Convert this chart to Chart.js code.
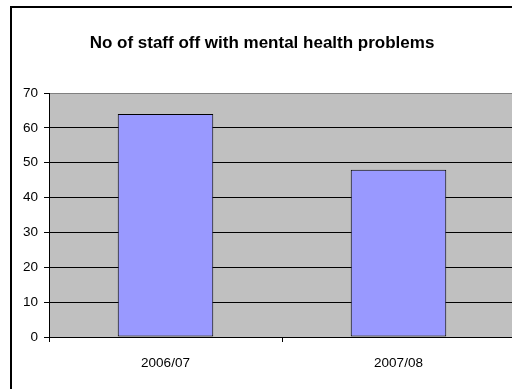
<!DOCTYPE html>
<html>
<head>
<meta charset="utf-8">
<script src="https://cdn.jsdelivr.net/npm/chart.js@4/dist/chart.umd.min.js"></script>
<style>
html,body{margin:0;padding:0;background:#fff;overflow:hidden;}
#wrap{width:512px;height:389px;overflow:hidden;position:relative;}
canvas{display:block;}
</style>
</head>
<body>
<div id="wrap"><canvas id="c" width="515" height="389"></canvas></div>
<script>
const titleText = "No of staff off with mental health problems";
const categories = ["2006/07", "2007/08"];
const staffOff = [64, 48];
const yMin = 0, yMax = 70, yStep = 10;

const FONT = "'Liberation Sans', Arial, sans-serif";

const frame = {
  id: 'frame',
  beforeDraw(chart) {
    const ctx = chart.ctx, a = chart.chartArea;
    ctx.save();
    ctx.fillStyle = '#ffffff';
    ctx.fillRect(0, 0, chart.width, chart.height);
    ctx.strokeStyle = '#000000';
    ctx.lineWidth = 2;
    ctx.strokeRect(11, 7, 520, 400);
    ctx.fillStyle = '#C0C0C0';
    ctx.fillRect(a.left, a.top, a.right - a.left, a.bottom - a.top);
    ctx.restore();
  }
};

new Chart(document.getElementById('c'), {
  type: 'bar',
  data: {
    labels: categories,
    datasets: [{
      data: staffOff,
      backgroundColor: '#9999FF',
      borderColor: '#000000',
      borderWidth: 1,
      borderSkipped: false,
      categoryPercentage: 1.0,
      barPercentage: 0.41
    }]
  },
  options: {
    responsive: false,
    animation: false,
    devicePixelRatio: 1,
    layout: { padding: { left: 9, right: 0, top: 0, bottom: 0 } },
    plugins: {
      legend: { display: false },
      tooltip: { enabled: false },
      title: {
        display: true,
        text: titleText,
        color: '#000000',
        font: { family: FONT, size: 17, weight: 'bold' },
        padding: { top: 33, bottom: 39.6 }
      }
    },
    scales: {
      x: {
        offset: true,
        grid: {
          display: true,
          offset: true,
          drawOnChartArea: false,
          tickLength: 5,
          tickColor: '#000000',
          color: '#000000'
        },
        border: { display: true, color: '#000000', width: 1 },
        ticks: {
          color: '#000000',
          font: { family: FONT, size: 13.5 },
          padding: 13,
          maxRotation: 0
        },
        afterFit(scale) { scale.height = 52; }
      },
      y: {
        min: yMin,
        max: yMax,
        ticks: {
          stepSize: yStep,
          color: '#000000',
          font: { family: FONT, size: 13.5 },
          padding: 6
        },
        grid: {
          color: (c) => (c.tick && c.tick.value === yMax) ? '#808080' : '#000000',
          lineWidth: 1,
          tickLength: 5,
          tickColor: '#000000'
        },
        border: { display: true, color: '#000000', width: 1 },
        afterFit(scale) { scale.width = 40; }
      }
    }
  },
  plugins: [frame]
});
</script>
</body>
</html>
